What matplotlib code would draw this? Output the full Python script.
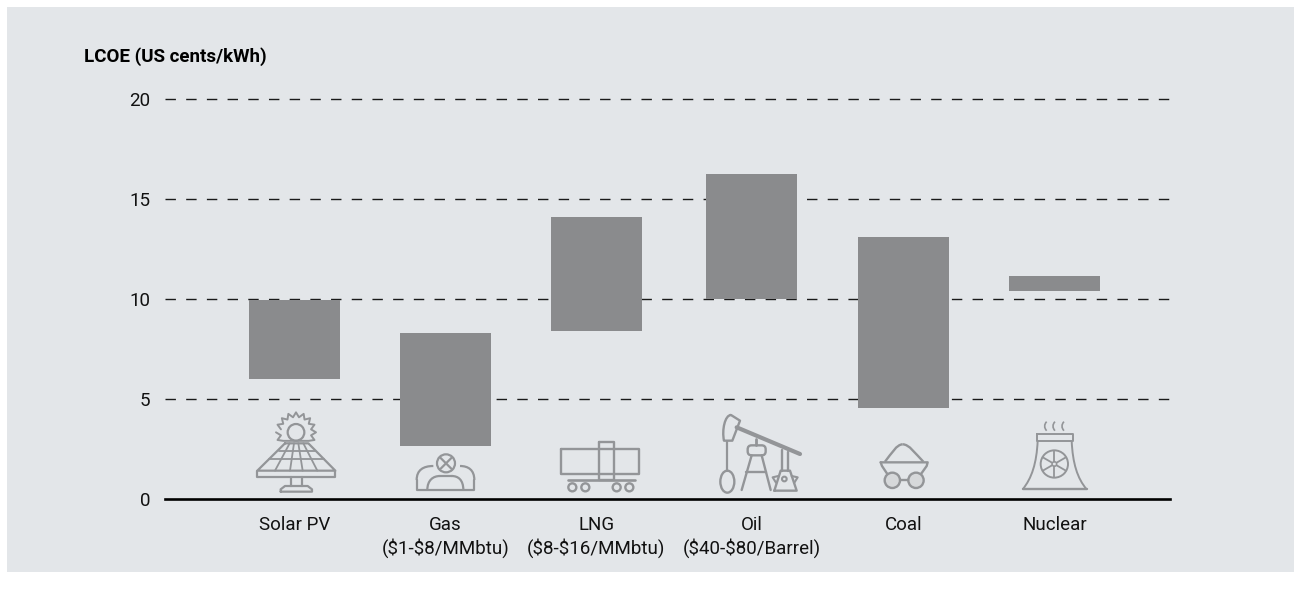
import numpy as np
import matplotlib
matplotlib.use("Agg")
import matplotlib.pyplot as plt
from matplotlib.patches import Circle, Ellipse, Rectangle, FancyBboxPatch, PathPatch
from matplotlib.path import Path

# LCOE ranges in US cents per kWh
categories = ["Solar PV", "Gas\n(\\$1-\\$8/MMbtu)", "LNG\n(\\$8-\\$16/MMbtu)",
              "Oil\n(\\$40-\\$80/Barrel)", "Coal", "Nuclear"]
lcoe_low = [6.0, 2.65, 8.4, 10.0, 4.55, 10.4]
lcoe_high = [9.95, 8.3, 14.1, 16.25, 13.1, 11.15]
y_ticks = [0, 5, 10, 15, 20]
y_title = "LCOE (US cents/kWh)"

# Layout: small nudges of the category slots, in slot units
slot_nudge = [0.0, -0.005, -0.012, 0.013, 0.01, 0.007]

PANEL = "#e3e6e9"
BAR = "#8a8b8d"
ICON = "#939598"
INK = "#111111"
plt.rcParams["font.family"] = ["Roboto", "DejaVu Sans"]

W, H = 1301, 599
fig = plt.figure(figsize=(W / 100, H / 100), dpi=100, facecolor="white")

# Full-figure layer in pixel units for the backdrop and the icons
bg = fig.add_axes([0, 0, 1, 1], zorder=0)
bg.set_xlim(0, W)
bg.set_ylim(H, 0)
bg.axis("off")
bg.add_patch(Rectangle((7, 7), 1287, 565, fc=PANEL, ec="none"))

L, R, T, B = 165, 1170, 98.5, 498.5
ax = fig.add_axes([L / W, 1 - B / H, (R - L) / W, (B - T) / H], zorder=1)
ax.patch.set_alpha(0)
ax.set_ylim(0, 20)
slot = 151.8
ax.set_xlim((L - 294.5) / slot, (R - 294.5) / slot)

x = np.arange(len(categories)) + np.array(slot_nudge)
ax.bar(x, np.array(lcoe_high) - np.array(lcoe_low), bottom=lcoe_low,
       width=91 / slot, color=BAR, zorder=2)

for s in ["top", "right", "left"]:
    ax.spines[s].set_visible(False)
ax.spines["bottom"].set_linewidth(1.9)
ax.spines["bottom"].set_color("#000000")
ax.spines["bottom"].set_zorder(4)

ax.set_yticks(y_ticks)
ax.tick_params(axis="y", length=0, pad=10.5, labelsize=13.5, labelcolor=INK)
ax.set_xticks(x)
ax.set_xticklabels(categories, fontsize=13.5, color=INK, linespacing=1.25)
ax.tick_params(axis="x", length=0, pad=12.5)
for v in y_ticks[1:]:
    ax.axhline(v, color="#1a1a1a", lw=1.0, dashes=(7.5, 7.4), zorder=1, clip_on=False)

fig.text(84 / W, 1 - 57 / H, y_title, fontsize=13.5, fontweight="bold",
         color="#000000", va="center", ha="left")

# Icons are traced in 3x units relative to a local origin
lw = 1.6


def local(ox, oy):
    return lambda px, py: (ox + px / 3, oy + py / 3)


def line(p, pts, width=lw):
    xy = [p(*q) for q in pts]
    bg.plot(*zip(*xy), color=ICON, lw=width, solid_capstyle="round",
            solid_joinstyle="round", zorder=3)


def curve(p, verts, width=lw, fc="none"):
    codes = [Path.MOVETO] + [Path.CURVE4] * (len(verts) - 1)
    bg.add_patch(PathPatch(Path([p(*q) for q in verts], codes), fc=fc,
                           ec=ICON, lw=width, zorder=3))


def ring(p, cx, cy, r, fc="none", width=lw):
    bg.add_patch(Circle(p(cx, cy), r / 3, fc=fc, ec=ICON, lw=width, zorder=3))


# Solar panel
p = local(230, 400)
ring(p, 198, 97, 25)
spikes = []
for k, a in enumerate(np.arange(0, 360, 360 / 32)):
    r = 60 if k % 2 == 0 else 46
    spikes.append((198 + r * np.cos(np.radians(a)), 97 + r * np.sin(np.radians(a))))
kept = [q for q in spikes if q[1] < 128]
kept = sorted(kept, key=lambda q: np.arctan2(q[1] - 97, q[0] - 198))
line(p, kept, 1.4)
line(p, [(165, 130), (235, 130), (316, 212), (82, 212), (165, 130)])
line(p, [(82, 212), (82, 230), (316, 230), (316, 212)])
line(p, [(146, 152), (254, 152)], 1.3)
line(p, [(118, 178), (282, 178)], 1.3)
for top, bot in [(179, 135), (192, 180), (205, 218), (220, 262)]:
    line(p, [(top, 130), (bot, 212)], 1.3)
line(p, [(183, 230), (183, 258)])
line(p, [(215, 230), (215, 258)])
line(p, [(152, 275), (152, 268), (165, 258), (233, 258), (246, 268), (246, 275), (152, 275)])

# Gas valve
ring(p, 648, 190, 27)
line(p, [(630, 172), (666, 208)])
line(p, [(666, 172), (630, 208)])
curve(p, [(610, 198), (580, 198), (560, 210), (560, 240)])
curve(p, [(690, 198), (715, 198), (733, 210), (733, 240)])
line(p, [(560, 240), (560, 270), (733, 270), (733, 240)])
curve(p, [(592, 270), (592, 240), (610, 228), (630, 228)])
line(p, [(630, 228), (665, 228)])
curve(p, [(665, 228), (685, 228), (700, 240), (700, 270)])

# LNG rail tanker
p = local(530, 400)
line(p, [(92, 147), (326, 147), (326, 221), (92, 221), (92, 147)], 1.7)
line(p, [(206, 125), (252, 125), (252, 240), (206, 240), (206, 125)], 1.7)
line(p, [(113, 241), (316, 241)], 1.9)
for cx in [127, 166, 260, 298]:
    ring(p, cx, 262, 12, width=1.7)

# Oil pump jack
curve(p, [(582, 122), (575, 90), (585, 45), (603, 45)], 1.7)
line(p, [(603, 45), (630, 62), (607, 122), (582, 122)], 1.7)
line(p, [(620, 82), (810, 162)], 3.0)
line(p, [(592, 125), (592, 212)], 1.6)
bg.add_patch(Ellipse(p(592, 245), 42 / 3, 66 / 3, fc="none", ec=ICON, lw=1.7, zorder=3))
bg.add_patch(FancyBboxPatch(p(653, 136), 54 / 3, 30 / 3, boxstyle="round,pad=0,rounding_size=4",
                            fc="none", ec=ICON, lw=1.7, zorder=3))
line(p, [(678, 118), (678, 136)], 2.0)
line(p, [(665, 166), (635, 270)], 1.7)
line(p, [(695, 166), (722, 270)], 1.7)
line(p, [(648, 216), (708, 216)], 1.7)
line(p, [(757, 150), (757, 212)], 1.7)
line(p, [(775, 157), (775, 212)], 1.7)
line(p, [(733, 272), (800, 272), (780, 212), (752, 212), (733, 272)], 1.7)
line(p, [(745, 228), (728, 232), (738, 248)], 1.5)
line(p, [(785, 228), (803, 232), (793, 248)], 1.5)
ring(p, 763, 237, 7, width=1.5)

# Coal cart
p = local(860, 400)
ring(p, 97, 241, 23, fc="#d6d8da", width=1.7)
ring(p, 168, 241, 23, fc="#d6d8da", width=1.7)
line(p, [(120, 241), (145, 241)], 1.7)
line(p, [(62, 187), (203, 187), (200, 198), (183, 222)], 1.7)
line(p, [(62, 187), (66, 198), (82, 222)], 1.7)
curve(p, [(75, 185), (95, 160), (110, 133), (128, 133)], 1.7)
curve(p, [(128, 133), (148, 133), (165, 160), (190, 185)], 1.7)

# Cooling tower
for sx in [558, 583, 610]:
    curve(p, [(sx + 2, 65), (sx - 6, 73), (sx - 6, 84), (sx + 2, 92)], 1.2)
line(p, [(530, 103), (638, 103), (638, 122), (530, 122), (530, 103)], 1.4)
curve(p, [(533, 122), (530, 190), (515, 235), (488, 268)], 1.4)
curve(p, [(635, 122), (638, 190), (652, 235), (680, 268)], 1.4)
line(p, [(488, 268), (680, 268)], 1.7)
ring(p, 583, 192, 41, width=1.4)
ring(p, 583, 192, 7, width=1.0)
for a in np.arange(0, 360, 60) + 30:
    c, s = np.cos(np.radians(a)), np.sin(np.radians(a))
    line(p, [(583 + 7 * c, 192 + 7 * s), (583 + 40 * c, 192 + 40 * s)], 1.3)

fig.savefig("out.png", dpi=100)
